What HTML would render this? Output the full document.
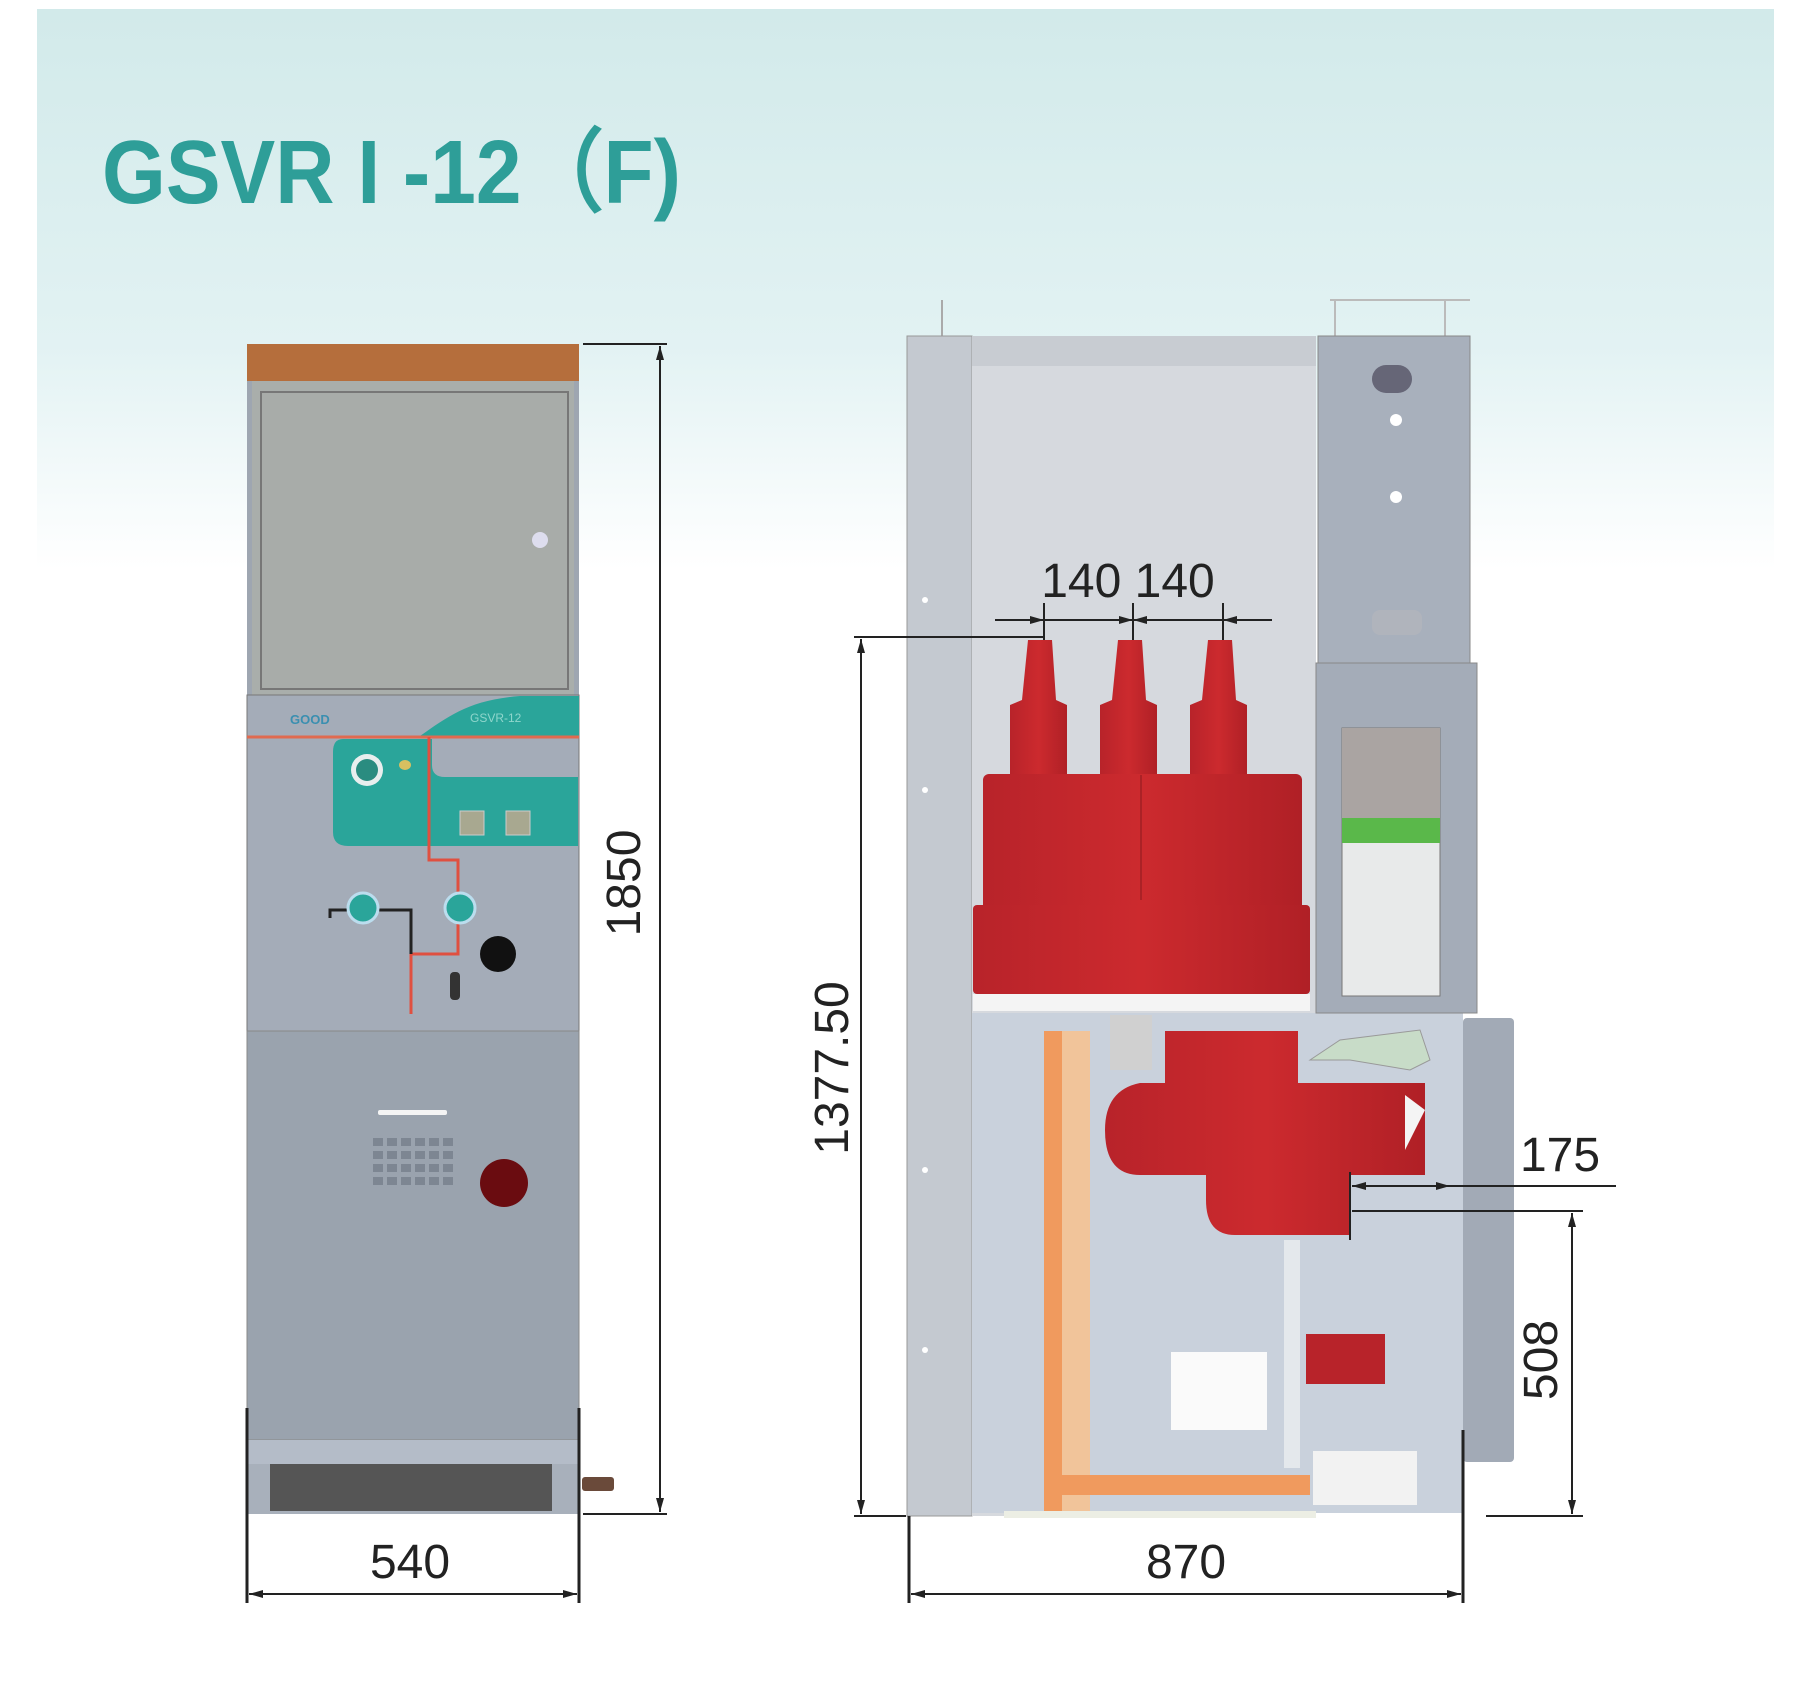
<!DOCTYPE html>
<html><head><meta charset="utf-8"><style>
html,body{margin:0;padding:0;background:#fff}
svg{display:block}
</style></head><body>
<svg width="1800" height="1694" viewBox="0 0 1800 1694" xmlns="http://www.w3.org/2000/svg" font-family="Liberation Sans, sans-serif">
<defs>
<linearGradient id="bg" x1="0" y1="0" x2="0" y2="1">
<stop offset="0" stop-color="#d2eaea"/><stop offset="0.6" stop-color="#e2f2f3"/><stop offset="1" stop-color="#ffffff"/>
</linearGradient>
<linearGradient id="red" x1="0" y1="0" x2="1" y2="0">
<stop offset="0" stop-color="#b8232a"/><stop offset="0.5" stop-color="#cc2a2e"/><stop offset="1" stop-color="#b02026"/>
</linearGradient>
<marker id="ar" markerWidth="14" markerHeight="8" refX="14" refY="4" orient="auto" markerUnits="userSpaceOnUse"><path d="M0,0 L14,4 L0,8 Z" fill="#222"/></marker>
<marker id="al" markerWidth="14" markerHeight="8" refX="0" refY="4" orient="auto" markerUnits="userSpaceOnUse"><path d="M14,0 L0,4 L14,8 Z" fill="#222"/></marker>
</defs>
<rect x="37" y="9" width="1737" height="560" fill="url(#bg)"/>
<text x="102" y="203" font-size="90" font-weight="bold" fill="#2e9e98" textLength="579" lengthAdjust="spacingAndGlyphs">GSVR I -12（F)</text>

<!-- LEFT CABINET -->
<rect x="247" y="344" width="332" height="37" fill="#b56e3c"/>
<rect x="247" y="381" width="332" height="1133" fill="#9ea6b1"/>
<rect x="252" y="381" width="322" height="314" fill="#a9aeab"/>
<rect x="261" y="392" width="307" height="297" fill="#a8aca9" stroke="#777" stroke-width="2"/>
<circle cx="540" cy="540" r="8" fill="#dde"/>
<rect x="247" y="695" width="332" height="336" fill="#a4acb8" stroke="#777" stroke-width="1"/>
<path d="M420,736 C450,715 470,700 520,696 L579,696 L579,736 Z" fill="#2aa59a"/>
<text x="290" y="724" font-size="13" font-weight="bold" fill="#3a8fb0">GOOD</text>
<text x="470" y="722" font-size="12" fill="#8fd6cc">GSVR-12</text>
<line x1="247" y1="737" x2="579" y2="737" stroke="#e06a50" stroke-width="3"/>
<path d="M343,739 L578,739 L578,846 L348,846 Q333,846 333,832 L333,752 Q333,739 343,739 Z" fill="#2aa59a"/>
<path d="M432,739 L578,739 L578,777 L445,777 Q432,777 432,765 Z" fill="#a4acb8"/>
<circle cx="367" cy="770" r="16" fill="#e8eeee"/><circle cx="367" cy="770" r="11" fill="#2a8c80"/>
<ellipse cx="405" cy="765" rx="6" ry="5" fill="#d8c060"/>
<rect x="460" y="811" width="24" height="24" fill="#a8a890" stroke="#ccc"/>
<rect x="506" y="811" width="24" height="24" fill="#a8a890" stroke="#ccc"/>
<path d="M429,737 L429,860 L458,860 L458,954 L411,954 L411,1014" fill="none" stroke="#e05040" stroke-width="3"/>
<path d="M330,918 L330,910 L411,910 L411,954" fill="none" stroke="#222" stroke-width="3"/>
<circle cx="363" cy="908" r="15" fill="#2aa59a" stroke="#bde" stroke-width="3"/>
<circle cx="460" cy="908" r="15" fill="#2aa59a" stroke="#bde" stroke-width="3"/>
<circle cx="498" cy="954" r="18" fill="#111"/>
<rect x="450" y="972" width="10" height="28" rx="4" fill="#333"/>
<rect x="247" y="1031" width="332" height="409" fill="#9aa3ae" stroke="#888" stroke-width="1"/>
<rect x="378" y="1110" width="69" height="5" rx="2" fill="#f4f4f4"/>
<circle cx="504" cy="1183" r="24" fill="#6a0c10"/>
<rect x="247" y="1440" width="332" height="24" fill="#b4bcc8"/>
<rect x="247" y="1464" width="332" height="50" fill="#a8b0bb"/>
<rect x="270" y="1464" width="282" height="47" fill="#555"/>
<rect x="582" y="1477" width="32" height="14" rx="3" fill="#6a4a3a"/>

<!-- Left dims -->
<line x1="583" y1="344" x2="667" y2="344" stroke="#222" stroke-width="2"/>
<line x1="583" y1="1514" x2="667" y2="1514" stroke="#222" stroke-width="2"/>
<line x1="660" y1="346" x2="660" y2="1512" stroke="#222" stroke-width="2" marker-start="url(#al)" marker-end="url(#ar)"/>
<text transform="translate(640,883) rotate(-90)" font-size="48" text-anchor="middle" fill="#222">1850</text>
<line x1="247" y1="1408" x2="247" y2="1603" stroke="#222" stroke-width="3"/>
<line x1="579" y1="1408" x2="579" y2="1603" stroke="#222" stroke-width="3"/>
<line x1="249" y1="1594" x2="577" y2="1594" stroke="#222" stroke-width="2" marker-start="url(#al)" marker-end="url(#ar)"/>
<text x="410" y="1578" font-size="48" text-anchor="middle" fill="#222">540</text>

<!-- RIGHT CABINET -->
<line x1="942" y1="300" x2="942" y2="336" stroke="#aaa" stroke-width="2"/>
<path d="M1330,300 L1470,300 M1335,300 L1335,336 M1445,300 L1445,336" stroke="#bbb" stroke-width="2" fill="none"/>
<rect x="907" y="336" width="65" height="1180" fill="#c4c9d0" stroke="#999"/>
<rect x="972" y="336" width="344" height="1180" fill="#d6d9de"/>
<rect x="972" y="336" width="344" height="30" fill="#c8ccd2"/>
<rect x="972" y="1013" width="491" height="500" fill="#c9d1dc"/>
<rect x="1318" y="336" width="152" height="327" fill="#a8b0bc" stroke="#888"/>
<rect x="1372" y="365" width="40" height="28" rx="14" fill="#667"/>
<circle cx="1396" cy="420" r="6" fill="#fff"/><circle cx="1396" cy="497" r="6" fill="#fff"/>
<rect x="1372" y="610" width="50" height="25" rx="8" fill="#b0b4bc"/>
<rect x="1316" y="663" width="161" height="350" fill="#a4acb8" stroke="#888"/>
<rect x="1342" y="728" width="98" height="268" fill="#e8eaea" stroke="#777"/>
<rect x="1342" y="728" width="98" height="90" fill="#aaa4a2"/>
<rect x="1342" y="818" width="98" height="25" fill="#5ab84a"/>
<path d="M1310,1060 L1340,1040 L1420,1030 L1430,1060 L1410,1070 L1350,1060 Z" fill="#c8dcc8" stroke="#999"/>
<rect x="1463" y="1018" width="51" height="444" rx="4" fill="#a2aab6"/>
<g fill="#fff"><circle cx="925" cy="600" r="3"/><circle cx="925" cy="790" r="3"/><circle cx="925" cy="1170" r="3"/><circle cx="925" cy="1350" r="3"/></g>

<!-- insulators -->
<g fill="url(#red)">
<path d="M1028,640 L1052,640 L1056,700 L1067,705 L1067,780 L1010,780 L1010,705 L1022,700 Z"/>
<path d="M1118,640 L1142,640 L1146,700 L1157,705 L1157,780 L1100,780 L1100,705 L1112,700 Z"/>
<path d="M1208,640 L1232,640 L1236,700 L1247,705 L1247,780 L1190,780 L1190,705 L1202,700 Z"/>
<rect x="983" y="774" width="319" height="140" rx="6"/>
<rect x="973" y="905" width="337" height="89" rx="4"/>
<path d="M1165,1031 L1298,1031 L1298,1083 L1425,1083 L1425,1175 L1350,1175 L1350,1235 L1235,1235 Q1206,1235 1206,1200 L1206,1175 L1140,1175 Q1105,1175 1105,1130 Q1105,1090 1140,1083 L1165,1083 Z"/>
</g>
<path d="M1405,1095 L1425,1110 L1405,1150 Z" fill="#f4f4f4"/>
<line x1="1141" y1="775" x2="1141" y2="900" stroke="#8a1a1e" stroke-width="1"/>
<rect x="973" y="994" width="337" height="17" fill="#f4f4f4"/>
<rect x="1110" y="1015" width="42" height="55" fill="#d0d0d0"/>
<rect x="1044" y="1031" width="18" height="485" fill="#f09a5e"/>
<rect x="1062" y="1031" width="28" height="485" fill="#f1c49a"/>
<rect x="1044" y="1475" width="266" height="20" fill="#f09a5e"/>
<rect x="1171" y="1352" width="96" height="78" fill="#fafafa"/>
<rect x="1306" y="1334" width="79" height="50" fill="#b8232a"/>
<rect x="1284" y="1240" width="16" height="228" fill="#e4e8ec"/>
<rect x="1313" y="1451" width="104" height="54" fill="#f2f2f2"/>
<rect x="1004" y="1511" width="312" height="7" fill="#eceee4"/>

<!-- Right dims -->
<line x1="995" y1="620" x2="1272" y2="620" stroke="#222" stroke-width="2"/>
<g stroke="#222" stroke-width="2">
<line x1="1044" y1="603" x2="1044" y2="640"/><line x1="1133" y1="603" x2="1133" y2="640"/><line x1="1223" y1="603" x2="1223" y2="640"/>
</g>
<path d="M1030,616 L1044,620 L1030,624 Z M1119,616 L1133,620 L1119,624 Z M1147,616 L1133,620 L1147,624 Z M1237,616 L1223,620 L1237,624 Z" fill="#222"/>
<text x="1128" y="597" font-size="48" text-anchor="middle" fill="#222">140 140</text>
<line x1="854" y1="637" x2="1044" y2="637" stroke="#222" stroke-width="2"/>
<line x1="854" y1="1516" x2="906" y2="1516" stroke="#222" stroke-width="2"/>
<line x1="861" y1="639" x2="861" y2="1514" stroke="#222" stroke-width="2" marker-start="url(#al)" marker-end="url(#ar)"/>
<text transform="translate(848,1068) rotate(-90)" font-size="48" text-anchor="middle" fill="#222">1377.50</text>
<line x1="1350" y1="1172" x2="1350" y2="1240" stroke="#222" stroke-width="2"/>
<line x1="1352" y1="1186" x2="1616" y2="1186" stroke="#222" stroke-width="2"/>
<path d="M1352,1186 L1366,1182 L1366,1190 Z M1450,1186 L1436,1182 L1436,1190 Z" fill="#222"/>
<line x1="1352" y1="1211" x2="1583" y2="1211" stroke="#222" stroke-width="2"/>
<text x="1560" y="1171" font-size="48" text-anchor="middle" fill="#222">175</text>
<line x1="1572" y1="1213" x2="1572" y2="1514" stroke="#222" stroke-width="2" marker-start="url(#al)" marker-end="url(#ar)"/>
<line x1="1486" y1="1516" x2="1583" y2="1516" stroke="#222" stroke-width="2"/>
<text transform="translate(1557,1360) rotate(-90)" font-size="48" text-anchor="middle" fill="#222">508</text>
<line x1="909" y1="1516" x2="909" y2="1603" stroke="#222" stroke-width="3"/>
<line x1="1463" y1="1430" x2="1463" y2="1603" stroke="#222" stroke-width="3"/>
<line x1="911" y1="1594" x2="1461" y2="1594" stroke="#222" stroke-width="2" marker-start="url(#al)" marker-end="url(#ar)"/>
<text x="1186" y="1578" font-size="48" text-anchor="middle" fill="#222">870</text>

<!-- vent grid -->
<g fill="#7d8692">
<rect x="373" y="1138" width="10" height="8"/><rect x="387" y="1138" width="10" height="8"/><rect x="401" y="1138" width="10" height="8"/><rect x="415" y="1138" width="10" height="8"/><rect x="429" y="1138" width="10" height="8"/><rect x="443" y="1138" width="10" height="8"/>
<rect x="373" y="1151" width="10" height="8"/><rect x="387" y="1151" width="10" height="8"/><rect x="401" y="1151" width="10" height="8"/><rect x="415" y="1151" width="10" height="8"/><rect x="429" y="1151" width="10" height="8"/><rect x="443" y="1151" width="10" height="8"/>
<rect x="373" y="1164" width="10" height="8"/><rect x="387" y="1164" width="10" height="8"/><rect x="401" y="1164" width="10" height="8"/><rect x="415" y="1164" width="10" height="8"/><rect x="429" y="1164" width="10" height="8"/><rect x="443" y="1164" width="10" height="8"/>
<rect x="373" y="1177" width="10" height="8"/><rect x="387" y="1177" width="10" height="8"/><rect x="401" y="1177" width="10" height="8"/><rect x="415" y="1177" width="10" height="8"/><rect x="429" y="1177" width="10" height="8"/><rect x="443" y="1177" width="10" height="8"/>
</g>
</svg>
</body></html>
